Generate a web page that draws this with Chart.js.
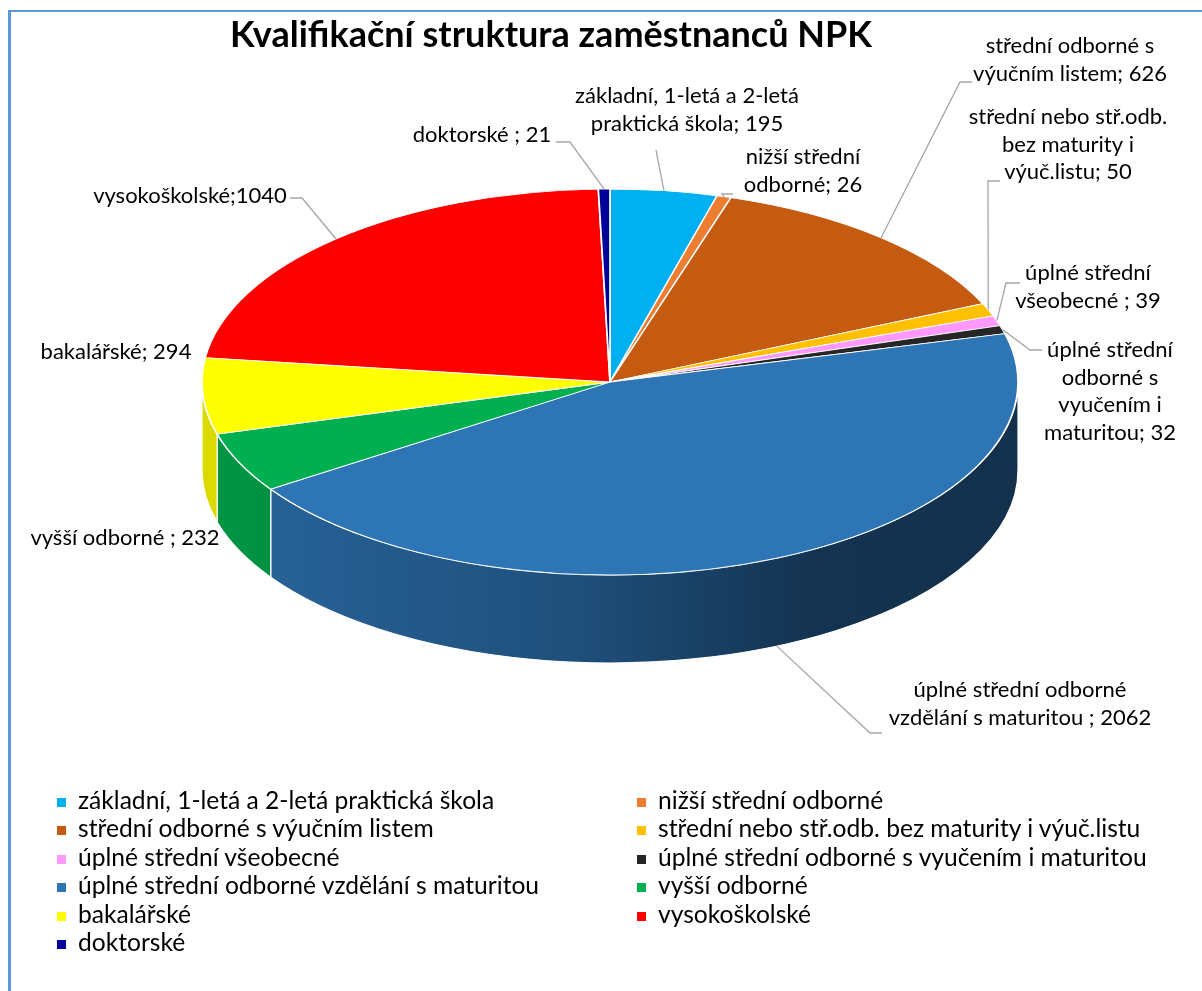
<!DOCTYPE html>
<html>
<head>
<meta charset="utf-8">
<script src="https://cdn.jsdelivr.net/npm/chart.js@4.4.0/dist/chart.umd.min.js"></script>
<style>
  body { margin: 0; background: #fff; }
  #wrap { position: relative; width: 1202px; height: 991px; overflow: hidden; }
  #frame { position: absolute; left: 8px; top: 10px; width: 1300px; height: 1100px;
           border-left: 3px solid #5b9bd5; border-top: 2px solid #5b9bd5; }
  canvas { position: absolute; left: 0; top: 0; }
  #legend { position: absolute; left: 57px; top: 786px; display: grid;
            grid-template-columns: 580px 540px; font: 24.6px Lato, sans-serif; color: #000; }
  #legend div { height: 28.4px; line-height: 28.4px; white-space: nowrap; }
  #legend span { display: inline-block; width: 9px; height: 9px; margin-right: 12px; vertical-align: 2px; }
</style>
</head>
<body>
<div id="wrap">
  <div id="frame"></div>
  <canvas id="npkChart" width="1202" height="991"></canvas>
  <div id="legend"></div>
</div>
<script>
// data
const categories = [
  'základní, 1-letá a 2-letá praktická škola',
  'nižší střední odborné',
  'střední odborné s výučním listem',
  'střední nebo stř.odb. bez maturity i výuč.listu',
  'úplné střední všeobecné',
  'úplné střední odborné s vyučením i maturitou',
  'úplné střední odborné vzdělání s maturitou',
  'vyšší odborné',
  'bakalářské',
  'vysokoškolské',
  'doktorské'
];
const values = [195, 26, 626, 50, 39, 32, 2062, 232, 294, 1040, 21];
const colors = ['#00b0f0', '#ed7d31', '#c55a11', '#ffc000', '#ff99ff', '#262626',
                '#2e75b6', '#00b050', '#ffff00', '#ff0000', '#000099'];
const labelTexts = [
  ['základní, 1-letá a 2-letá', 'praktická škola; 195'],
  ['nižší střední', 'odborné; 26'],
  ['střední odborné s', 'výučním listem; 626'],
  ['střední nebo stř.odb.', 'bez maturity i', 'výuč.listu; 50'],
  ['úplné střední', 'všeobecné ; 39'],
  ['úplné střední', 'odborné s', 'vyučením i', 'maturitou; 32'],
  ['úplné střední odborné', 'vzdělání s maturitou ; 2062'],
  ['vyšší odborné ; 232'],
  ['bakalářské; 294'],
  ['vysokoškolské;1040'],
  ['doktorské ; 21']
];

// layout of the fake 3D pie
const CX = 610, CY = 382, RX = 408, RY = 193, DEPTH = 88;
// label placement: text centre x, first line y, leader tick (x1,y1,x2,y2) or null, anchor on side bottom
const labelPos = [
  { x: 687, y: 96, tick: [656, 150, 656, 150] },
  { x: 803, y: 157, tick: [733, 194, 722, 194] },
  { x: 1070, y: 46, tick: [972, 82, 960, 82] },
  { x: 1068, y: 117, tick: [1000, 181, 988, 181] },
  { x: 1088, y: 273, tick: [1020, 283, 1006, 283] },
  { x: 1110, y: 350, tick: [1042, 350, 1030, 350] },
  { x: 1020, y: 690, tick: [882, 733, 870, 733], side: true },
  { x: 125, y: 538, tick: null },
  { x: 116, y: 352, tick: null },
  { x: 190, y: 196, tick: [290, 198, 302, 198] },
  { x: 482, y: 135, tick: [556, 142, 570, 142] }
];

function shade(hex, f) {
  const n = parseInt(hex.slice(1), 16);
  const r = Math.round(((n >> 16) & 255) * f), g = Math.round(((n >> 8) & 255) * f), b = Math.round((n & 255) * f);
  return 'rgb(' + r + ',' + g + ',' + b + ')';
}

const depthPlugin = {
  id: 'depth3d',
  beforeDatasetsDraw(chart) {
    const ctx = chart.ctx;
    const meta = chart.getDatasetMeta(0);
    meta.data.forEach((arc, i) => {
      const a0 = Math.max(arc.startAngle, 0), a1 = Math.min(arc.endAngle, Math.PI);
      if (a1 <= a0) return;
      const g = ctx.createLinearGradient(CX - RX, 0, CX + RX, 0);
      g.addColorStop(0, shade(colors[i], 0.86));
      g.addColorStop(0.45, shade(colors[i], 0.68));
      g.addColorStop(0.75, shade(colors[i], 0.44));
      g.addColorStop(1, shade(colors[i], 0.42));
      ctx.beginPath();
      ctx.ellipse(CX, CY, RX, RY, 0, a0, a1);
      ctx.lineTo(CX + RX * Math.cos(a1), CY + DEPTH + RY * Math.sin(a1));
      ctx.ellipse(CX, CY + DEPTH, RX, RY, 0, a1, a0, true);
      ctx.closePath();
      ctx.fillStyle = g;
      ctx.fill();
      ctx.strokeStyle = '#ffffff';
      ctx.lineWidth = 1.2;
      ctx.stroke();
    });
    // squash the library's circle into the top ellipse
    const a = meta.data[0];
    ctx.save();
    ctx.translate(CX, CY);
    ctx.scale(RX / a.outerRadius, RY / a.outerRadius);
    ctx.translate(-a.x, -a.y);
  },
  afterDatasetsDraw(chart) {
    chart.ctx.restore();
  },
  afterDraw(chart) {
    const ctx = chart.ctx;
    const meta = chart.getDatasetMeta(0);
    ctx.save();
    ctx.strokeStyle = '#a6a6a6';
    ctx.lineWidth = 1.3;
    labelPos.forEach((p, i) => {
      if (!p.tick) return;
      const arc = meta.data[i];
      const mid = (arc.startAngle + arc.endAngle) / 2;
      const ax = CX + RX * Math.cos(mid);
      const ay = CY + RY * Math.sin(mid) + (p.side ? DEPTH : 0);
      ctx.beginPath();
      ctx.moveTo(p.tick[0], p.tick[1]);
      ctx.lineTo(p.tick[2], p.tick[3]);
      ctx.lineTo(ax, ay);
      ctx.stroke();
    });
    ctx.fillStyle = '#000';
    ctx.font = '22px Lato';
    ctx.textAlign = 'center';
    ctx.textBaseline = 'middle';
    labelPos.forEach((p, i) => {
      labelTexts[i].forEach((line, k) => ctx.fillText(line, p.x, p.y + k * 27.5));
    });
    ctx.restore();
  }
};

const ctx = document.getElementById('npkChart').getContext('2d');
const npkChart = new Chart(ctx, {
  type: 'pie',
  data: {
    labels: categories,
    datasets: [{
      data: values,
      backgroundColor: colors,
      borderColor: '#ffffff',
      borderWidth: 1.5,
      clip: false
    }]
  },
  options: {
    responsive: false,
    animation: false,
    events: [],
    layout: { padding: { left: 0, right: 100, top: 0, bottom: 200 } },
    plugins: {
      legend: { display: false },
      tooltip: { enabled: false },
      title: {
        display: true,
        text: 'Kvalifikační struktura zaměstnanců NPK',
        color: '#000',
        font: { family: 'Lato', size: 36, weight: 'bold' },
        padding: { top: 14, bottom: 10 }
      }
    }
  },
  plugins: [depthPlugin]
});

// legend in two columns, same order as the reference
const legendEl = document.getElementById('legend');
categories.forEach((c, i) => {
  const d = document.createElement('div');
  const s = document.createElement('span');
  s.style.background = colors[i];
  d.appendChild(s);
  d.appendChild(document.createTextNode(c));
  legendEl.appendChild(d);
});
</script>
</body>
</html>
